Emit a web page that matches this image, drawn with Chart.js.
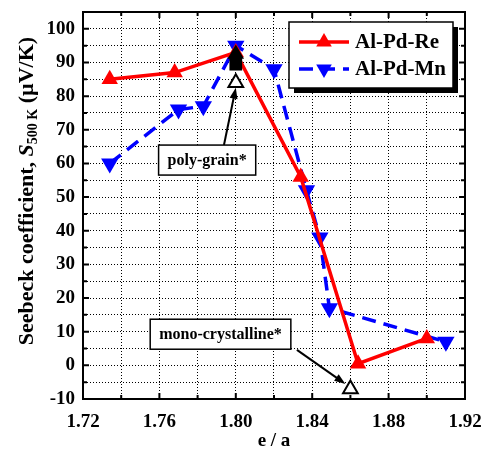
<!DOCTYPE html>
<html>
<head>
<meta charset="utf-8">
<script src="https://cdn.jsdelivr.net/npm/chart.js@4.4.1/dist/chart.umd.min.js"></script>
<style>
  html, body { margin: 0; padding: 0; background: #fff; }
  #wrap { width: 487px; height: 452px; }
</style>
</head>
<body>
<div id="wrap"><canvas id="seebeck" width="487" height="452"></canvas></div>
<script>
// Seebeck coefficient at 500 K against electrons per atom
const reX = [1.734, 1.768, 1.80, 1.834, 1.864, 1.90];
const reS = [85, 87, 93, 56, 0.5, 8];

const mnX = [1.734, 1.77, 1.783, 1.80, 1.82, 1.837, 1.844, 1.849, 1.91];
const mnS = [60, 76, 77, 95, 88, 52, 38, 17, 7];

// open markers: poly-grain and mono-crystalline samples
const sampleX = [1.80, 1.86];
const sampleS = [84, -7];

// black filled marks on top of the 1.80 point
const blackX = [1.80, 1.80];
const blackS = [92.5, 89.5];

const xTicks = { min: 1.72, max: 1.92, step: 0.02 };
const yTicks = { min: -10, max: 105, step: 5 };

const seriesNames = ['Al-Pd-Re', 'Al-Pd-Mn'];
const noteLabels = ['poly-grain*', 'mono-crystalline*'];

const FONT = '"Liberation Serif", "Times New Roman", serif';

function pts(xs, ys) {
  return xs.map((x, i) => ({ x: x, y: ys[i] }));
}

// frame on all four sides with inward ticks
const framePlugin = {
  id: 'frame',
  afterDraw(chart) {
    const ctx = chart.ctx;
    const a = chart.chartArea;
    const xs = chart.scales.x, ys = chart.scales.y;
    ctx.save();
    ctx.strokeStyle = '#000';
    ctx.lineWidth = 2;
    ctx.strokeRect(a.left, a.top, a.right - a.left, a.bottom - a.top);
    ctx.beginPath();
    xs.ticks.forEach(t => {
      const px = xs.getPixelForValue(t.value);
      const len = Math.round(t.value * 100) % 4 === 0 ? 6 : 4;
      ctx.moveTo(px, a.bottom); ctx.lineTo(px, a.bottom - len);
      ctx.moveTo(px, a.top); ctx.lineTo(px, a.top + len);
    });
    ys.ticks.forEach(t => {
      if (t.value > 100) return;
      const py = ys.getPixelForValue(t.value);
      const len = Math.round(t.value) % 10 === 0 ? 6 : 4;
      ctx.moveTo(a.left, py); ctx.lineTo(a.left + len, py);
      ctx.moveTo(a.right, py); ctx.lineTo(a.right - len, py);
    });
    ctx.stroke();
    ctx.restore();
  }
};

function arrow(ctx, x1, y1, x2, y2) {
  const ang = Math.atan2(y2 - y1, x2 - x1);
  const hl = 11, hw = 4;
  ctx.beginPath();
  ctx.moveTo(x1, y1);
  ctx.lineTo(x2 - Math.cos(ang) * hl * 0.8, y2 - Math.sin(ang) * hl * 0.8);
  ctx.stroke();
  ctx.beginPath();
  ctx.moveTo(x2, y2);
  ctx.lineTo(x2 - Math.cos(ang) * hl - Math.sin(ang) * hw, y2 - Math.sin(ang) * hl + Math.cos(ang) * hw);
  ctx.lineTo(x2 - Math.cos(ang) * hl + Math.sin(ang) * hw, y2 - Math.sin(ang) * hl - Math.cos(ang) * hw);
  ctx.closePath();
  ctx.fill();
}

// boxed notes pointing at the open markers (box centre and arrow start in data units)
const notes = [
  { text: noteLabels[0], bx: 1.785, by: 61, ax: 1.7938, ay: 65.5, tx: sampleX[0], ty: sampleS[0], dx: 0, dy: 5 },
  { text: noteLabels[1], bx: 1.792, by: 9.25, ax: 1.832, ay: 4.6, tx: sampleX[1], ty: sampleS[1], dx: -5, dy: -5 }
];

const notePlugin = {
  id: 'notes',
  afterDatasetsDraw(chart) {
    const ctx = chart.ctx;
    const xs = chart.scales.x, ys = chart.scales.y;
    ctx.save();
    ctx.font = 'bold 16px ' + FONT;
    ctx.textAlign = 'center';
    ctx.textBaseline = 'middle';
    notes.forEach(n => {
      ctx.strokeStyle = '#000';
      ctx.fillStyle = '#000';
      ctx.lineWidth = 2;
      arrow(ctx, xs.getPixelForValue(n.ax), ys.getPixelForValue(n.ay),
        xs.getPixelForValue(n.tx) + n.dx, ys.getPixelForValue(n.ty) + n.dy);
      const cx = xs.getPixelForValue(n.bx), cy = ys.getPixelForValue(n.by);
      const w = ctx.measureText(n.text).width + 18, h = 30;
      ctx.fillStyle = '#fff';
      ctx.fillRect(cx - w / 2, cy - h / 2, w, h);
      ctx.lineWidth = 1.5;
      ctx.strokeRect(cx - w / 2, cy - h / 2, w, h);
      ctx.fillStyle = '#000';
      ctx.fillText(n.text, cx, cy + 1);
    });
    ctx.restore();
  }
};

// legend box with drop shadow, top right inside the plot
const legendPlugin = {
  id: 'boxLegend',
  afterDraw(chart) {
    const ctx = chart.ctx;
    const a = chart.chartArea;
    const w = 164, h = 66;
    const x0 = a.right - 12 - w, y0 = a.top + 10;
    ctx.save();
    ctx.fillStyle = '#000';
    ctx.fillRect(x0 + 5, y0 + 5, w, h);
    ctx.fillStyle = '#fff';
    ctx.fillRect(x0, y0, w, h);
    ctx.strokeStyle = '#000';
    ctx.lineWidth = 1.5;
    ctx.strokeRect(x0, y0, w, h);
    [0, 1].forEach(i => {
      const ds = chart.data.datasets[i];
      const ly = y0 + 20 + i * 27;
      ctx.strokeStyle = ds.borderColor;
      ctx.lineWidth = ds.borderWidth;
      ctx.setLineDash(ds.borderDash || []);
      ctx.beginPath();
      ctx.moveTo(x0 + 10, ly);
      ctx.lineTo(x0 + 60, ly);
      ctx.stroke();
      ctx.setLineDash([]);
      ctx.fillStyle = ds.pointBackgroundColor;
      Chart.helpers.drawPoint(ctx, {
        pointStyle: 'triangle', radius: 9, rotation: ds.pointRotation, borderWidth: 0
      }, x0 + 35, ly);
      ctx.fillStyle = '#000';
      ctx.font = 'bold 21px ' + FONT;
      ctx.textAlign = 'left';
      ctx.textBaseline = 'middle';
      ctx.fillText(ds.label, x0 + 66, ly + 1);
    });
    ctx.restore();
  }
};

// y title with italic S and subscript
const yTitlePlugin = {
  id: 'yTitle',
  afterDraw(chart) {
    const ctx = chart.ctx;
    const a = chart.chartArea;
    const parts = [
      { t: 'Seebeck coefficient, ', f: 'bold 22px ' + FONT, dy: 0 },
      { t: 'S', f: 'italic bold 22px ' + FONT, dy: 0 },
      { t: '500 K', f: 'bold 14px ' + FONT, dy: 6 },
      { t: ' (\u00b5V/K)', f: 'bold 22px ' + FONT, dy: 0 }
    ];
    ctx.save();
    let total = 0;
    parts.forEach(p => { ctx.font = p.f; p.w = ctx.measureText(p.t).width; total += p.w; });
    ctx.translate(27, a.top + 179);
    ctx.rotate(-Math.PI / 2);
    ctx.fillStyle = '#000';
    ctx.textAlign = 'left';
    ctx.textBaseline = 'middle';
    let x = -total / 2;
    parts.forEach(p => {
      ctx.font = p.f;
      ctx.fillText(p.t, x, p.dy);
      x += p.w;
    });
    ctx.restore();
  }
};

const gridStyle = {
  color: '#000',
  lineWidth: 1,
  drawTicks: false
};

new Chart(document.getElementById('seebeck'), {
  type: 'scatter',
  data: {
    datasets: [
      {
        label: seriesNames[0],
        data: pts(reX, reS),
        showLine: true,
        borderColor: '#ff0000',
        backgroundColor: '#ff0000',
        borderWidth: 3.5,
        pointStyle: 'triangle',
        pointRadius: 9.5,
        pointBackgroundColor: '#ff0000',
        pointBorderWidth: 0,
        pointRotation: 0,
        order: 2
      },
      {
        label: seriesNames[1],
        data: pts(mnX, mnS),
        showLine: true,
        borderColor: '#0000ff',
        backgroundColor: '#0000ff',
        borderWidth: 3.5,
        borderDash: [14, 8],
        pointStyle: 'triangle',
        pointRotation: 180,
        pointRadius: 10,
        pointBackgroundColor: '#0000ff',
        pointBorderWidth: 0,
        order: 3
      },
      {
        label: 'samples',
        data: pts(sampleX, sampleS),
        pointStyle: 'triangle',
        pointRadius: 8.5,
        pointBackgroundColor: '#fff',
        pointBorderColor: '#000',
        pointBorderWidth: 2,
        order: 0
      },
      {
        label: 'marks',
        data: pts(blackX, blackS),
        pointStyle: ['triangle', 'rect'],
        pointRadius: [9.5, 9],
        pointBackgroundColor: '#000',
        pointBorderWidth: 0,
        order: 1
      }
    ]
  },
  options: {
    responsive: false,
    animation: false,
    events: [],
    layout: { padding: { top: 12, right: 22, left: 0, bottom: 0 } },
    plugins: {
      legend: { display: false },
      tooltip: { enabled: false }
    },
    scales: {
      x: {
        type: 'linear',
        min: xTicks.min,
        max: xTicks.max,
        afterFit(s) { s.height = 53; s.paddingLeft = 0; s.paddingRight = 0; },
        ticks: {
          stepSize: xTicks.step,
          autoSkip: false,
          maxRotation: 0,
          padding: 12,
          color: '#000',
          font: { family: FONT, size: 19, weight: 'bold' },
          callback: v => Math.round(v * 100) % 4 === 0 ? v.toFixed(2) : ''
        },
        grid: Object.assign({}, gridStyle),
        border: { display: true, color: '#000', width: 2, dash: [1, 2] },
        title: {
          display: true,
          text: 'e / a',
          color: '#000',
          font: { family: FONT, size: 19, weight: 'bold' },
          padding: { top: 0, bottom: 0 }
        }
      },
      y: {
        min: yTicks.min,
        max: yTicks.max,
        afterFit(s) { s.width = 83; s.paddingTop = 0; s.paddingBottom = 0; },
        ticks: {
          stepSize: yTicks.step,
          autoSkip: false,
          padding: 8,
          color: '#000',
          font: { family: FONT, size: 19, weight: 'bold' },
          callback: v => Math.round(v) % 10 === 0 && v <= 100 ? String(v) : ''
        },
        grid: Object.assign({}, gridStyle),
        border: { display: true, color: '#000', width: 2, dash: [1, 2] }
      }
    }
  },
  plugins: [framePlugin, notePlugin, legendPlugin, yTitlePlugin]
});
</script>
</body>
</html>
